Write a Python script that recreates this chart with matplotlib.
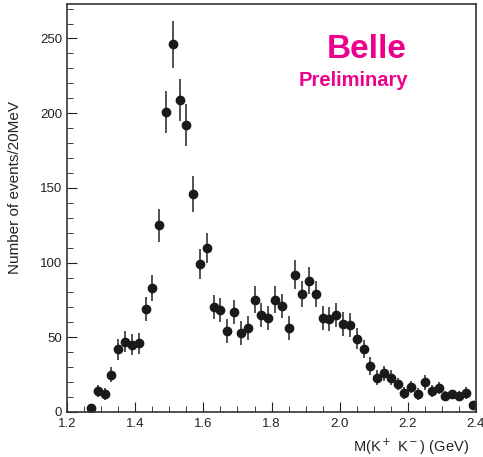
import matplotlib
matplotlib.use('Agg')
import matplotlib.pyplot as plt
from matplotlib.ticker import MultipleLocator

# bin centres (GeV), 20 MeV bins
mass = [1.27, 1.29, 1.31, 1.33, 1.35, 1.37, 1.39, 1.41, 1.43, 1.45,
        1.47, 1.49, 1.51, 1.53, 1.55, 1.57, 1.59, 1.61, 1.63, 1.65,
        1.67, 1.69, 1.71, 1.73, 1.75, 1.77, 1.79, 1.81, 1.83, 1.85,
        1.87, 1.89, 1.91, 1.93, 1.95, 1.97, 1.99, 2.01, 2.03, 2.05,
        2.07, 2.09, 2.11, 2.13, 2.15, 2.17, 2.19, 2.21, 2.23, 2.25,
        2.27, 2.29, 2.31, 2.33, 2.35, 2.37, 2.39]
events = [3, 14, 12, 25, 42, 47, 45, 46, 69, 83,
          125, 201, 246, 209, 192, 146, 99, 110, 70, 68,
          54, 67, 53, 56, 75, 65, 63, 75, 71, 56,
          92, 79, 88, 79, 63, 62, 65, 59, 58, 49,
          42, 31, 23, 26, 23, 19, 13, 17, 12, 20,
          14, 16, 11, 12, 11, 13, 5]
errors = [2, 4, 4, 5, 7, 7, 7, 7, 8, 9,
          11, 14, 16, 14, 14, 12, 10, 10, 8, 8,
          8, 8, 8, 8, 9, 8, 8, 9, 8, 8,
          10, 9, 9, 9, 8, 8, 8, 8, 8, 7,
          6, 6, 5, 5, 5, 4, 4, 4, 4, 5,
          4, 4, 3, 3, 3, 4, 2]

plt.rcParams['font.family'] = ['Liberation Sans', 'DejaVu Sans']

fig = plt.figure(figsize=(4.83, 4.57), dpi=100)
ax = fig.add_axes([0.139, 0.0985, 0.8465, 0.8925])

ax.errorbar(mass, events, yerr=errors, fmt='o', color='#1a1a1a',
            ecolor='#444444', elinewidth=1.3, markersize=6, capsize=0)

ax.set_xlim(1.2, 2.4)
ax.set_ylim(0, 273)
ax.xaxis.set_major_locator(MultipleLocator(0.2))
ax.xaxis.set_minor_locator(MultipleLocator(0.05))
ax.yaxis.set_major_locator(MultipleLocator(50))
ax.yaxis.set_minor_locator(MultipleLocator(10))
ax.tick_params(which='both', direction='in', labelsize=9.5, colors='#222222')
ax.tick_params(which='major', length=7)
ax.tick_params(which='minor', length=4)
ax.tick_params(axis='x', pad=4)
for s in ax.spines.values():
    s.set_linewidth(1.2)
    s.set_color('#333333')

ax.set_ylabel('Number of events/20MeV', fontsize=11, color='#222222')
ax.yaxis.set_label_coords(-0.11, 0.55)
ax.set_xlabel('M(K$^+$ K$^-$) (GeV)', fontsize=10.5, color='#222222')
ax.xaxis.set_label_coords(0.84, -0.06)

ax.text(2.08, 237, 'Belle', color='#ec008c', fontsize=24, fontweight='bold', ha='center')
ax.text(2.04, 218, 'Preliminary', color='#ec008c', fontsize=14.5, fontweight='bold', ha='center')

fig.savefig('out.png', dpi=100)
